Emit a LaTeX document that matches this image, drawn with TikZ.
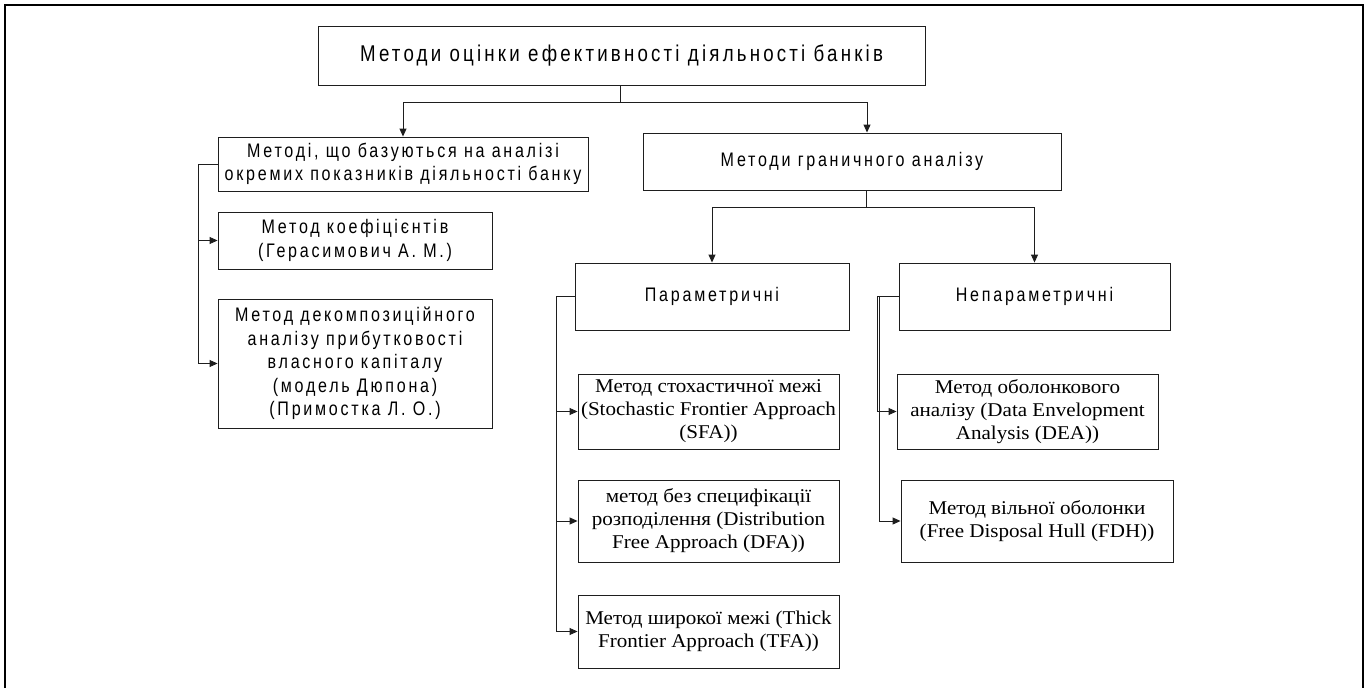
\documentclass[tikz,border=0pt]{standalone}
\usepackage{fontspec}
\setmainfont{Liberation Serif}[FakeStretch=1.08]
\newfontfamily\uasans{Liberation Sans}[FakeStretch=0.82,LetterSpace=14]
\usetikzlibrary{arrows.meta}
\definecolor{ink}{HTML}{1E1E1E}
\tikzset{
  box/.style={draw=ink, line width=0.9pt, align=center, inner sep=0pt},
  sbox/.style={box, font=\uasans\fontsize{19.6}{23.5}\selectfont},
  rbox/.style={box, font=\fontsize{19.5}{23}\selectfont},
  link/.style={draw=ink, line width=0.9pt},
  arr/.style={link, -{Triangle[length=8pt,width=7pt]}},
}
\begin{document}
\begin{tikzpicture}[x=1pt,y=-1pt]
\useasboundingbox (0,0) rectangle (1367,688);
% outer frame, open at the bottom
\draw[line width=2.6pt] (5,688) -- (5,5) -- (1363,5) -- (1363,688);

% root
\node[box, font=\uasans\fontsize{22.8}{26}\selectfont, minimum width=607pt, minimum height=59pt] (top) at (621.5,55.5)
  {Методи оцінки ефективності діяльності банків};

% first level
\node[sbox, minimum width=370pt, minimum height=54pt] (A) at (403,164)
  {Методі, що базуються на аналізі\\окремих показників діяльності банку};
\node[sbox, minimum width=418pt, minimum height=57pt] (B) at (852,161.5)
  {Методи граничного аналізу};

% indicator-based methods
\node[sbox, minimum width=274pt, minimum height=57pt] (K) at (355,240.5)
  {Метод коефіцієнтів\\(Герасимович А. М.)};
\node[sbox, minimum width=274pt, minimum height=129pt] (D) at (355,363.5)
  {Метод декомпозиційного\\аналізу прибутковості\\власного капіталу\\(модель Дюпона)\\(Примостка Л. О.)};

% frontier methods
\node[sbox, minimum width=274pt, minimum height=67pt] (P) at (712,296.5) {Параметричні};
\node[sbox, minimum width=271pt, minimum height=67pt] (N) at (1034.5,296.5) {Непараметричні};

\node[rbox, minimum width=261pt, minimum height=75pt] (SFA) at (708.5,411.5)
  {Метод стохастичної межі\\(Stochastic Frontier Approach\\(SFA))};
\node[rbox, minimum width=261pt, minimum height=82pt] (DFA) at (708.5,521)
  {метод без специфікації\\розподілення (Distribution\\Free Approach (DFA))};
\node[rbox, minimum width=261pt, minimum height=73pt] (TFA) at (708.5,631.5)
  {Метод широкої межі (Thick\\Frontier Approach (TFA))};

\node[rbox, minimum width=261pt, minimum height=75pt] (DEA) at (1027.5,411.5)
  {Метод оболонкового\\аналізу (Data Envelopment\\Analysis (DEA))};
\node[rbox, minimum width=272pt, minimum height=82pt] (FDH) at (1037,521)
  {Метод вільної оболонки\\(Free Disposal Hull (FDH))};

% connectors
\coordinate (j1) at (620,102);
\draw[link] (top.south -| j1) -- (j1);
\draw[arr] (j1) -| (A.north);
\draw[arr] (j1) -| ([xshift=15pt]B.north);

\coordinate (j2) at (866,207);
\draw[link] (B.south -| j2) -- (j2);
\draw[arr] (j2) -| (P.north);
\draw[arr] (j2) -| (N.north);

\draw[arr] (A.west) -- ++(-19,0) |- (K.west);
\draw[arr] (A.west) -- ++(-19,0) |- (D.west);

\draw[arr] (P.west) -- ++(-18,0) |- (SFA.west);
\draw[arr] (P.west) -- ++(-18,0) |- (DFA.west);
\draw[arr] (P.west) -- ++(-18,0) |- (TFA.west);

\draw[arr] (N.west) -- ++(-21,0) |- (DEA.west);
\draw[arr] (N.west) -- ++(-19,0) |- (FDH.west);
\end{tikzpicture}
\end{document}
